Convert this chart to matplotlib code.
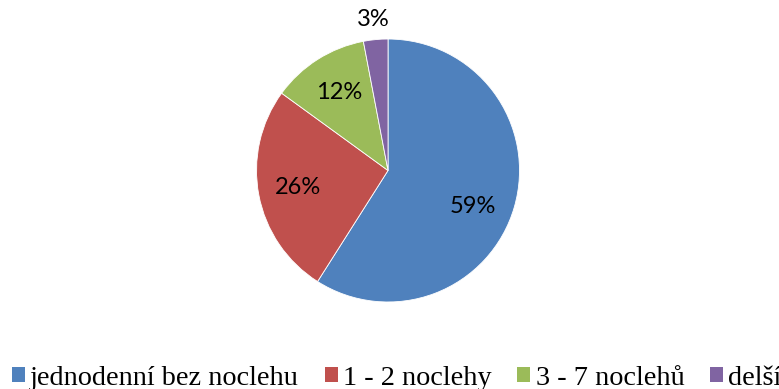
import matplotlib.pyplot as plt
from matplotlib.patches import Patch

# delka pobytu
labels = ['jednodenní bez noclehu', '1 - 2 noclehy', '3 - 7 noclehů', 'delší']
shares = [59, 26, 12, 3]
colors = ['#4F81BD', '#C0504D', '#9BBB59', '#8064A2']

fig = plt.figure(figsize=(7.79, 3.89), dpi=100)
ax = fig.add_axes([0.3293, 0.2237, 0.3376, 0.676])

wedges, texts, autotexts = ax.pie(shares, colors=colors, startangle=90, counterclock=False,
                                  autopct=lambda p: '%d%%' % round(p), pctdistance=0.7,
                                  wedgeprops=dict(edgecolor='white', linewidth=0.6),
                                  textprops=dict(fontsize=17, family='Lato', color='black'))
# posledni popisek je mimo vysec
x, y = autotexts[-1].get_position()
autotexts[-1].set_position((x / 0.7 * 1.15, y / 0.7 * 1.15))
# 59% trochu niz
x, y = autotexts[0].get_position()
autotexts[0].set_position((x - 0.03, y - 0.08))
ax.set_xlim(-1, 1)
ax.set_ylim(-1, 1)
ax.set_aspect('equal')

handles = [Patch(facecolor=c, edgecolor='none') for c in colors]
fig.legend(handles, labels, loc='center left', ncol=4, bbox_to_anchor=(12 / 779, 0.028),
           frameon=False, prop=dict(family='Liberation Serif', size=20.3),
           borderpad=0, borderaxespad=0,
           handlelength=0.46, handleheight=0.46, handletextpad=0.18, columnspacing=0.92)

fig.savefig('out.png', dpi=100)
